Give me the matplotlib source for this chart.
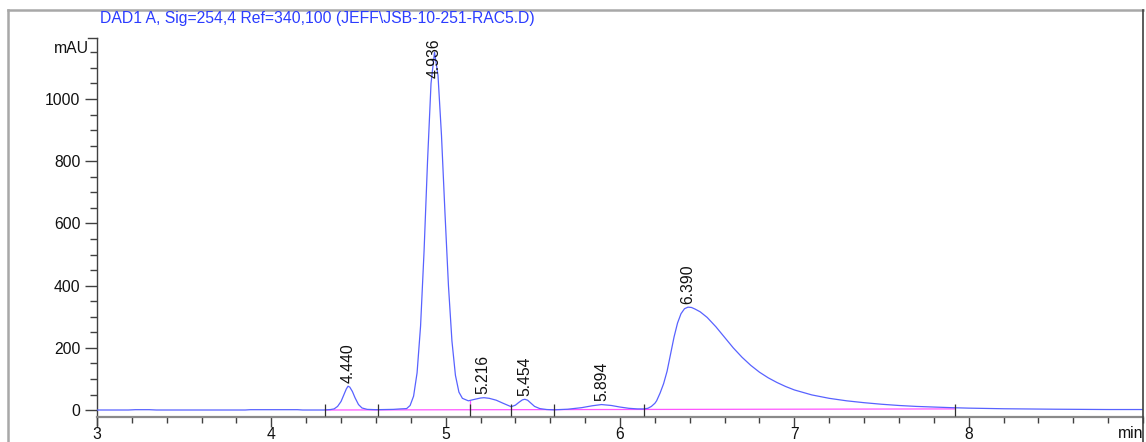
import matplotlib
matplotlib.use("Agg")
import matplotlib.pyplot as plt
from matplotlib.lines import Line2D
from matplotlib.ticker import MultipleLocator

plt.rcParams['font.family'] = ['Liberation Sans', 'DejaVu Sans']

# Detector trace (min, mAU)
time = [3.00, 3.18, 3.22, 3.30, 3.34, 3.85, 3.88, 4.15, 4.18, 4.30,
        4.34, 4.36, 4.38, 4.40, 4.415, 4.43, 4.44, 4.45, 4.465, 4.48,
        4.50, 4.52, 4.55, 4.60, 4.70, 4.74, 4.776, 4.796, 4.816, 4.836,
        4.856, 4.876, 4.896, 4.916, 4.936, 4.956, 4.976, 4.996, 5.016, 5.036,
        5.056, 5.076, 5.096, 5.13, 5.16, 5.20, 5.22, 5.25, 5.29, 5.33,
        5.376, 5.40, 5.42, 5.44, 5.454, 5.47, 5.49, 5.51, 5.54, 5.58,
        5.62, 5.70, 5.78, 5.84, 5.894, 5.95, 6.00, 6.05, 6.10, 6.135,
        6.16, 6.18, 6.20, 6.21, 6.23, 6.25, 6.27, 6.29, 6.31, 6.33,
        6.35, 6.37, 6.39, 6.41, 6.43, 6.46, 6.50, 6.55, 6.60, 6.65,
        6.70, 6.75, 6.80, 6.85, 6.90, 6.95, 7.00, 7.10, 7.20, 7.30,
        7.40, 7.50, 7.60, 7.70, 7.80, 7.90, 8.00, 8.20, 8.50, 8.80, 9.00]
signal = [0.5, 0.5, 1.5, 1.5, 0.5, 0.5, 1.5, 1.5, 0.5, 0.5,
          2.0, 4.0, 12.0, 28.0, 48.0, 68.0, 77.0, 74.0, 60.0, 40.0,
          18.0, 7.0, 2.5, 1.5, 2.5, 4.0, 5.0, 15.0, 45.0, 120.0,
          270.0, 510.0, 800.0, 1050.0, 1150.0, 1076.0, 883.0, 634.0, 400.0, 222.0,
          112.0, 58.0, 38.0, 30.0, 34.0, 39.0, 40.0, 38.0, 32.0, 22.0,
          11.0, 16.0, 25.0, 33.0, 35.0, 32.0, 22.0, 12.0, 5.0, 2.0,
          1.0, 3.0, 8.0, 14.0, 18.0, 15.0, 10.0, 6.0, 4.0, 4.0,
          6.0, 12.0, 22.0, 30.0, 55.0, 85.0, 125.0, 180.0, 235.0, 280.0,
          310.0, 326.0, 331.0, 330.0, 325.0, 316.0, 298.0, 268.0, 234.0, 200.0,
          170.0, 144.0, 122.0, 104.0, 89.0, 76.0, 65.0, 49.0, 38.0, 30.0,
          24.0, 19.0, 15.0, 12.0, 10.0, 8.0, 6.5, 4.5, 3.0, 2.0, 2.0]

# Integration results
peak_times = [4.440, 4.936, 5.216, 5.454, 5.894, 6.390]
peak_heights = [77.0, 1150.0, 40.0, 35.0, 18.0, 331.0]
peak_labels = ["4.440", "4.936", "5.216", "5.454", "5.894", "6.390"]

# Integration events (peak start / end marks) and baseline
event_times = [4.31, 4.61, 5.138, 5.376, 5.62, 6.135, 7.92]
baseline_times = [4.31, 7.92]
baseline_values = [0.5, 4.0]
drop_time = 5.138
drop_value = 30.0

title = "DAD1 A, Sig=254,4 Ref=340,100 (JEFF\\JSB-10-251-RAC5.D)"

FS = 11.3

fig = plt.figure(figsize=(11.46, 4.42), dpi=100)
ax = fig.add_axes([97 / 1146, 25 / 442, (1143 - 97) / 1146, (417 - 38) / 442])

trace_color = "#5862ff"
base_color = "#ff55ff"
axis_color = "#404040"

ax.plot(time, signal, color=trace_color, lw=0.9, zorder=3)
ax.plot(baseline_times, baseline_values, color=base_color, lw=0.9, zorder=2)
ax.plot([drop_time, drop_time], [baseline_values[0], drop_value], color=base_color, lw=0.9, zorder=2)
ax.plot(event_times, [2.0] * len(event_times), ls="none", marker="|", ms=9,
        mew=0.9, color="#303030", zorder=4)

ax.set_xlim(3, 9)
ax.set_ylim(-22, 1196)

for t, h, lab in zip(peak_times, peak_heights, peak_labels):
    if h > 1000:
        ax.text(t, 1196, lab, rotation=90, ha="center", va="top",
                fontsize=FS, color="#111111", zorder=5)
    else:
        ax.annotate(lab, (t, h), xytext=(0, 2.5), textcoords="offset points",
                    rotation=90, ha="center", va="bottom", fontsize=FS,
                    color="#111111", zorder=5)

# axes styling
for side in ["top", "right"]:
    ax.spines[side].set_visible(False)
ax.spines["left"].set_color(axis_color)
ax.spines["left"].set_linewidth(1.0)
ax.spines["left"].set_bounds(-22, 1196)
ax.spines["bottom"].set_color("#8a8a8a")
ax.spines["bottom"].set_linewidth(1.6)

ax.xaxis.set_minor_locator(MultipleLocator(0.2))
ax.yaxis.set_minor_locator(MultipleLocator(50))
ax.set_xticks([3, 4, 5, 6, 7, 8])
ax.set_yticks([0, 200, 400, 600, 800, 1000])

ax.tick_params(axis="both", which="major", labelsize=FS, colors=axis_color,
               labelcolor="#111111", width=1.0)
ax.tick_params(axis="y", which="major", length=9, pad=3)
ax.tick_params(axis="y", which="minor", length=5, width=1.0, colors=axis_color)
ax.tick_params(axis="x", which="major", length=7, pad=0.5)
ax.tick_params(axis="x", which="minor", length=4, width=1.0, colors=axis_color)

# y-axis bracket at the top and the extension below the x axis
ax.plot([-0.0085, 0], [1196, 1196], transform=ax.get_yaxis_transform(), color=axis_color,
        lw=1.0, clip_on=False)
ax.plot([0, 0], [-0.02, 0], transform=ax.transAxes, color=axis_color, lw=1.0, clip_on=False)

ax.text(-0.008, 1163, "mAU", transform=ax.get_yaxis_transform(), ha="right", va="center",
        fontsize=FS, color="#111111")
fig.text(1143 / 1146, 1 - 434 / 442, "min", ha="right", va="center",
         fontsize=FS, color="#111111")

# outer frame of the plot window
fig.add_artist(Line2D([8 / 1146, 8 / 1146], [0, 1 - 10 / 442], color="#a8a8a8", lw=1.8,
                      transform=fig.transFigure))
fig.add_artist(Line2D([8 / 1146, 1143 / 1146], [1 - 10 / 442, 1 - 10 / 442], color="#a8a8a8",
                      lw=1.8, transform=fig.transFigure))
fig.add_artist(Line2D([1143 / 1146, 1143 / 1146], [0, 1 - 10 / 442], color="#404040", lw=1.2,
                      transform=fig.transFigure))

fig.text(100 / 1146, 1 - 19 / 442, title, ha="left", va="center", fontsize=FS,
         color="#2b3cff")

fig.savefig("out.png", dpi=100)
